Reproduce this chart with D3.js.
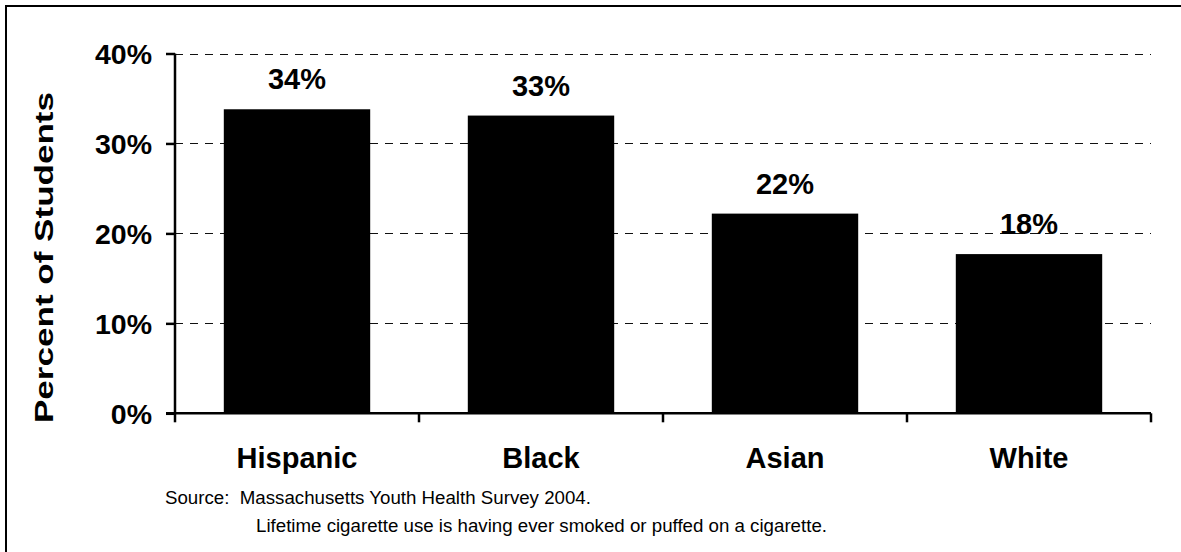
<!DOCTYPE html>
<html>
<head>
<meta charset="utf-8">
<script src="https://cdn.jsdelivr.net/npm/d3@7/dist/d3.min.js"></script>
<style>
  html, body { margin: 0; padding: 0; background: #fff; }
  svg { display: block; font-family: Arial, "Liberation Sans", sans-serif; }
  .note { white-space: pre; }
</style>
</head>
<body>
<svg id="chart" width="1181" height="552"></svg>
<script>
// Lifetime cigarette use by race/ethnicity
const categories = ["Hispanic", "Black", "Asian", "White"];
const values = [0.338, 0.331, 0.222, 0.177];
const yTicks = [0, 0.1, 0.2, 0.3, 0.4];
const yTitle = "Percent of Students";
const notes = [
  "Source:  Massachusetts Youth Health Survey 2004.",
  "Lifetime cigarette use is having ever smoked or puffed on a cigarette."
];

const svg = d3.select("#chart");
const W = 1181, H = 552;
const plot = { left: 175, right: 1151, top: 53.5, bottom: 413.3 };

// frame along the top and left edges
svg.append("path")
  .attr("d", `M6,${H} L6,6 L${W},6`)
  .attr("fill", "none")
  .attr("stroke", "#000")
  .attr("stroke-width", 2);

const x = d3.scaleBand()
  .domain(categories)
  .range([plot.left, plot.right])
  .paddingInner(0.4)
  .paddingOuter(0.2);

const y = d3.scaleLinear()
  .domain([0, 0.4])
  .range([plot.bottom, plot.top]);

// dashed gridlines
svg.append("g")
  .selectAll("line")
  .data(yTicks.filter(d => d > 0))
  .join("line")
  .attr("x1", plot.left)
  .attr("x2", plot.right)
  .attr("y1", d => Math.round(y(d)) + 0.5)
  .attr("y2", d => Math.round(y(d)) + 0.5)
  .attr("stroke", "#111")
  .attr("stroke-width", 1)
  .attr("stroke-dasharray", "8,7");

// bars
svg.append("g")
  .selectAll("rect")
  .data(categories)
  .join("rect")
  .attr("x", d => x(d))
  .attr("width", x.bandwidth())
  .attr("y", (d, i) => y(values[i]))
  .attr("height", (d, i) => y(0) - y(values[i]))
  .attr("fill", "#000");

// value labels
svg.append("g")
  .selectAll("text")
  .data(categories)
  .join("text")
  .attr("x", d => x(d) + x.bandwidth() / 2)
  .attr("y", (d, i) => y(values[i]) - 20)
  .attr("text-anchor", "middle")
  .attr("font-weight", "bold")
  .attr("font-size", 29)
  .text((d, i) => d3.format(".0%")(values[i]));

// y axis
const yAxis = svg.append("g")
  .attr("transform", `translate(${plot.left},0)`)
  .call(d3.axisLeft(y).tickValues(yTicks).tickFormat(d3.format(".0%")).tickSize(9).tickPadding(14));
yAxis.select(".domain").attr("stroke", "#000").attr("stroke-width", 2.5)
  .attr("d", `M0,${plot.top}V${plot.bottom}`);
yAxis.selectAll(".tick line").attr("stroke", "#000").attr("stroke-width", 2.5);
yAxis.selectAll(".tick text")
  .attr("font-family", "Arial, 'Liberation Sans', sans-serif")
  .attr("font-weight", "bold")
  .attr("font-size", 28.5)
  .attr("fill", "#000")
  .attr("dy", "0.36em");

// x axis with ticks at category boundaries
const xAxis = svg.append("g")
  .attr("transform", `translate(0,${plot.bottom})`);
xAxis.append("line")
  .attr("x1", plot.left - 9).attr("x2", plot.right)
  .attr("stroke", "#000").attr("stroke-width", 2.5);
const bounds = d3.range(categories.length + 1).map(i => plot.left + i * x.step());
xAxis.selectAll("line.tk")
  .data(bounds)
  .join("line")
  .attr("class", "tk")
  .attr("x1", d => d).attr("x2", d => d)
  .attr("y1", 0).attr("y2", 9)
  .attr("stroke", "#000").attr("stroke-width", 2.5);
xAxis.selectAll("text")
  .data(categories)
  .join("text")
  .attr("x", d => x(d) + x.bandwidth() / 2)
  .attr("y", 55)
  .attr("text-anchor", "middle")
  .attr("font-weight", "bold")
  .attr("font-size", 29)
  .text(d => d);

// y axis title
svg.append("text")
  .attr("transform", "translate(53,257.5) rotate(-90)")
  .attr("text-anchor", "middle")
  .attr("font-weight", "bold")
  .attr("font-size", 25)
  .attr("textLength", 331)
  .attr("lengthAdjust", "spacingAndGlyphs")
  .text(yTitle);

// source notes
svg.append("text")
  .attr("class", "note")
  .attr("x", 165).attr("y", 504)
  .attr("font-size", 18.7)
  .text(notes[0]);
svg.append("text")
  .attr("class", "note")
  .attr("x", 256).attr("y", 531.5)
  .attr("font-size", 18.7)
  .text(notes[1]);
</script>
</body>
</html>
